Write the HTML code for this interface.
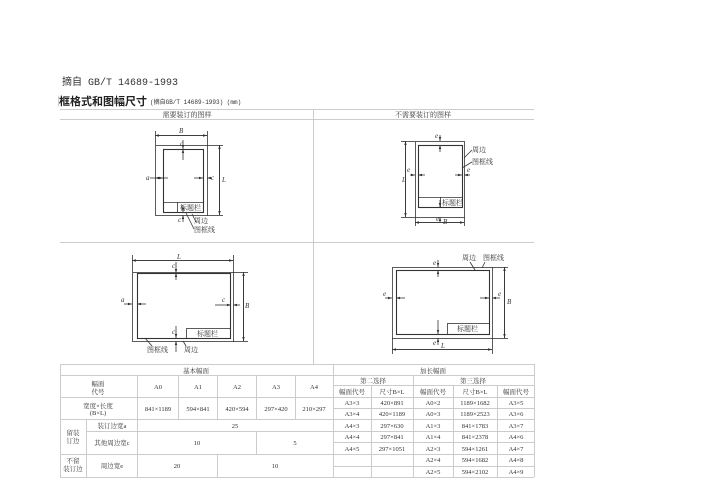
<!DOCTYPE html>
<html><head><meta charset="utf-8"><style>
body{margin:0;background:#fff;width:713px;height:504px;overflow:hidden}
svg{display:block}
text{font-family:"Liberation Serif","Noto Serif CJK SC","Noto Sans CJK SC",serif;fill:#333}
.c{text-anchor:middle}
.t{font-size:7px}
.i{font-style:italic;font-size:7px}
</style></head><body>
<svg width="713" height="504" viewBox="0 0 713 504" xmlns="http://www.w3.org/2000/svg">
<defs><marker id="a" markerWidth="6" markerHeight="6" refX="5" refY="3" orient="auto"><path d="M0,1.5L5,3L0,4.5z" fill="#333"/></marker>
<clipPath id="cl"><rect x="58" y="90" width="300" height="20"/></clipPath></defs>
<text x="62" y="85" style="font-size:10px;font-family:'Liberation Mono','Noto Sans CJK SC',monospace">摘自 GB/T 14689-1993</text>
<g clip-path="url(#cl)"><text x="48" y="105" style="font-size:11px;font-weight:bold;font-family:'Noto Sans CJK SC',sans-serif;fill:#222">图框格式和图幅尺寸</text></g>
<text x="150" y="104" style="font-size:6px;font-family:'Liberation Mono','Noto Sans CJK SC',monospace">(摘自GB/T 14689-1993)  (mm)</text>
<g stroke="#ccc" stroke-width="1" fill="none">
<line x1="60" y1="109.5" x2="534" y2="109.5"/><line x1="60" y1="119.5" x2="534" y2="119.5"/>
<line x1="60" y1="242.5" x2="534" y2="242.5"/><line x1="60" y1="364.5" x2="534" y2="364.5"/>
<line x1="313.5" y1="109" x2="313.5" y2="364"/>
</g>
<text x="187" y="117" class="c t">需要装订的图样</text>
<text x="423" y="117" class="c t">不需要装订的图样</text>
<g stroke="#333" stroke-width="0.8" fill="none">
<!-- top-left -->
<rect x="155.5" y="145.5" width="52" height="70"/>
<rect x="163.5" y="149.5" width="40" height="63" stroke-width="1.1"/>
<line x1="163" y1="202.5" x2="204" y2="202.5"/><line x1="177.5" y1="202" x2="177.5" y2="212"/>
<line x1="155" y1="135.5" x2="207" y2="135.5" marker-end="url(#a)"/><line x1="207" y1="135.5" x2="155" y2="135.5" marker-end="url(#a)"/>
<line x1="155.5" y1="131" x2="155.5" y2="145"/><line x1="207.5" y1="131" x2="207.5" y2="145"/>
<line x1="219.5" y1="145" x2="219.5" y2="215" marker-end="url(#a)"/><line x1="219.5" y1="215" x2="219.5" y2="145" marker-end="url(#a)"/>
<line x1="207" y1="145.5" x2="223" y2="145.5"/><line x1="207" y1="215.5" x2="223" y2="215.5"/>
<line x1="183" y1="160" x2="183" y2="149" marker-end="url(#a)"/><line x1="183" y1="140" x2="183" y2="149" marker-end="url(#a)"/>
<line x1="150" y1="178" x2="163" y2="178" marker-end="url(#a)"/><line x1="168" y1="178" x2="155" y2="178" marker-end="url(#a)"/>
<line x1="194" y1="178" x2="203" y2="178" marker-end="url(#a)"/><line x1="212" y1="178" x2="207" y2="178" marker-end="url(#a)"/>
<line x1="183" y1="222" x2="183" y2="215" marker-end="url(#a)"/><line x1="183" y1="205" x2="183" y2="212" marker-end="url(#a)"/>
<line x1="192" y1="214" x2="196" y2="222"/><line x1="186" y1="213" x2="194" y2="229"/>
<!-- top-right -->
<rect x="415.5" y="141.5" width="49" height="76"/>
<rect x="418.5" y="145.5" width="44" height="62" stroke-width="1.1"/>
<line x1="418" y1="197.5" x2="462" y2="197.5"/><line x1="440.5" y1="197" x2="440.5" y2="207"/>
<line x1="405.5" y1="141" x2="405.5" y2="217" marker-end="url(#a)"/><line x1="405.5" y1="217" x2="405.5" y2="141" marker-end="url(#a)"/>
<line x1="401" y1="141.5" x2="415" y2="141.5"/><line x1="401" y1="217.5" x2="415" y2="217.5"/>
<line x1="415" y1="222.5" x2="464" y2="222.5" marker-end="url(#a)"/><line x1="464" y1="222.5" x2="415" y2="222.5" marker-end="url(#a)"/>
<line x1="415.5" y1="217" x2="415.5" y2="226"/><line x1="464.5" y1="217" x2="464.5" y2="226"/>
<line x1="440" y1="135" x2="440" y2="141" marker-end="url(#a)"/><line x1="440" y1="152" x2="440" y2="145" marker-end="url(#a)"/>
<line x1="410" y1="175" x2="415" y2="175" marker-end="url(#a)"/><line x1="425" y1="175" x2="418" y2="175" marker-end="url(#a)"/>
<line x1="455" y1="175" x2="462" y2="175" marker-end="url(#a)"/><line x1="470" y1="175" x2="464" y2="175" marker-end="url(#a)"/>
<line x1="440" y1="200" x2="440" y2="207" marker-end="url(#a)"/><line x1="440" y1="222" x2="440" y2="217" marker-end="url(#a)"/>
<line x1="472" y1="150" x2="464" y2="158"/><line x1="472" y1="162" x2="462" y2="168"/>
<!-- bottom-left -->
<rect x="132.5" y="272.5" width="101" height="69"/>
<rect x="137.5" y="273.5" width="93" height="65" stroke-width="1.1"/>
<rect x="186.5" y="328.5" width="44" height="10"/>
<line x1="132" y1="260.5" x2="233" y2="260.5" marker-end="url(#a)"/><line x1="233" y1="260.5" x2="132" y2="260.5" marker-end="url(#a)"/>
<line x1="132.5" y1="255" x2="132.5" y2="272"/><line x1="233.5" y1="255" x2="233.5" y2="272"/>
<line x1="243.5" y1="272" x2="243.5" y2="341" marker-end="url(#a)"/><line x1="243.5" y1="341" x2="243.5" y2="272" marker-end="url(#a)"/>
<line x1="233" y1="272.5" x2="248" y2="272.5"/><line x1="233" y1="341.5" x2="248" y2="341.5"/>
<line x1="176" y1="262" x2="176" y2="273" marker-end="url(#a)"/><line x1="176" y1="280" x2="176" y2="273" marker-end="url(#a)"/>
<line x1="124" y1="304" x2="132" y2="304" marker-end="url(#a)"/><line x1="146" y1="304" x2="137" y2="304" marker-end="url(#a)"/>
<line x1="215" y1="305" x2="231" y2="305" marker-end="url(#a)"/><line x1="240" y1="305" x2="233" y2="305" marker-end="url(#a)"/>
<line x1="176" y1="326" x2="176" y2="338" marker-end="url(#a)"/><line x1="176" y1="352" x2="176" y2="341" marker-end="url(#a)"/>
<line x1="145" y1="338" x2="152" y2="346"/><line x1="183" y1="341" x2="186" y2="346"/>
<!-- bottom-right -->
<rect x="392.5" y="267.5" width="100" height="71"/>
<rect x="396.5" y="270.5" width="93" height="64" stroke-width="1.1"/>
<rect x="447.5" y="323.5" width="42" height="11"/>
<line x1="392" y1="349.5" x2="492" y2="349.5" marker-end="url(#a)"/><line x1="492" y1="349.5" x2="392" y2="349.5" marker-end="url(#a)"/>
<line x1="392.5" y1="338" x2="392.5" y2="354"/><line x1="492.5" y1="338" x2="492.5" y2="354"/>
<line x1="504.5" y1="267" x2="504.5" y2="338" marker-end="url(#a)"/><line x1="504.5" y1="338" x2="504.5" y2="267" marker-end="url(#a)"/>
<line x1="492" y1="267.5" x2="508" y2="267.5"/><line x1="492" y1="338.5" x2="508" y2="338.5"/>
<line x1="438" y1="260" x2="438" y2="267" marker-end="url(#a)"/><line x1="438" y1="277" x2="438" y2="270" marker-end="url(#a)"/>
<line x1="385" y1="298" x2="392" y2="298" marker-end="url(#a)"/><line x1="405" y1="298" x2="396" y2="298" marker-end="url(#a)"/>
<line x1="480" y1="298" x2="489" y2="298" marker-end="url(#a)"/><line x1="500" y1="298" x2="492" y2="298" marker-end="url(#a)"/>
<line x1="438" y1="320" x2="438" y2="334" marker-end="url(#a)"/><line x1="438" y1="345" x2="438" y2="338" marker-end="url(#a)"/>
<line x1="470" y1="262" x2="475" y2="270"/><line x1="485" y1="262" x2="482" y2="268"/>
</g>
<g class="i">
<text x="179" y="133" class="i">B</text><text x="180" y="146" class="i">c</text><text x="146" y="180" class="i">a</text>
<text x="211" y="180" class="i">c</text><text x="222" y="182" class="i">L</text><text x="178" y="222" class="i">c</text>
<text x="402" y="182" class="i">L</text><text x="407" y="172" class="i">e</text><text x="467" y="172" class="i">e</text>
<text x="435" y="138" class="i">e</text><text x="436" y="221" class="i">e</text><text x="443" y="224" class="i">B</text>
<text x="177" y="259" class="i">L</text><text x="172" y="268" class="i">c</text><text x="121" y="302" class="i">a</text>
<text x="222" y="302" class="i">c</text><text x="245" y="308" class="i">B</text><text x="172" y="334" class="i">c</text>
<text x="433" y="265" class="i">e</text><text x="383" y="296" class="i">e</text><text x="498" y="296" class="i">e</text>
<text x="507" y="304" class="i">B</text><text x="433" y="345" class="i">e</text><text x="441" y="348" class="i">L</text>
</g>
<g class="t">
<text x="180" y="210">标题栏</text><text x="194" y="223">周边</text><text x="194" y="232">图框线</text>
<text x="472" y="152">周边</text><text x="472" y="164">图框线</text><text x="442" y="205">标题栏</text>
<text x="197" y="336">标题栏</text><text x="147" y="352">图框线</text><text x="184" y="352">周边</text>
<text x="457" y="331">标题栏</text><text x="462" y="260">周边</text><text x="483" y="260">图框线</text>
</g>
<!-- tables -->
<g stroke="#ccc" stroke-width="1" fill="none">
<line x1="60" y1="375.5" x2="534" y2="375.5"/>
<line x1="60" y1="397.5" x2="333" y2="397.5"/><line x1="60" y1="419.5" x2="333" y2="419.5"/>
<line x1="86" y1="431.5" x2="333" y2="431.5"/><line x1="60" y1="454.5" x2="333" y2="454.5"/>
<line x1="60" y1="477.5" x2="534" y2="477.5"/>
<line x1="86.5" y1="419" x2="86.5" y2="477"/><line x1="137.5" y1="375" x2="137.5" y2="477"/>
<line x1="178.5" y1="375" x2="178.5" y2="419"/><line x1="217.5" y1="375" x2="217.5" y2="419"/>
<line x1="256.5" y1="375" x2="256.5" y2="419"/><line x1="295.5" y1="375" x2="295.5" y2="419"/>
<line x1="256.5" y1="431" x2="256.5" y2="454"/><line x1="217.5" y1="454" x2="217.5" y2="477"/>
<line x1="333.5" y1="364" x2="333.5" y2="477"/>
<line x1="333" y1="385.5" x2="534" y2="385.5"/><line x1="333" y1="397.5" x2="534" y2="397.5"/>
<line x1="333" y1="408.5" x2="534" y2="408.5"/><line x1="333" y1="419.5" x2="534" y2="419.5"/>
<line x1="333" y1="431.5" x2="534" y2="431.5"/><line x1="333" y1="442.5" x2="534" y2="442.5"/>
<line x1="333" y1="454.5" x2="534" y2="454.5"/><line x1="333" y1="466.5" x2="534" y2="466.5"/>
<line x1="371.5" y1="385" x2="371.5" y2="477"/><line x1="413.5" y1="375" x2="413.5" y2="477"/>
<line x1="453.5" y1="385" x2="453.5" y2="477"/><line x1="497.5" y1="385" x2="497.5" y2="477"/>
<line x1="534.5" y1="364" x2="534.5" y2="477"/><line x1="60.5" y1="364" x2="60.5" y2="477"/>
</g>
<g class="t c" style="font-size:6.5px">
<text x="196" y="373">基本幅面</text><text x="433" y="373">加长幅面</text>
<text x="98" y="386">幅面</text><text x="98" y="394">代号</text>
<text x="158" y="389">A0</text><text x="198" y="389">A1</text><text x="237" y="389">A2</text><text x="276" y="389">A3</text><text x="314" y="389">A4</text>
<text x="98" y="408">宽度×长度</text><text x="98" y="415">(B×L)</text>
<text x="158" y="411">841×1189</text><text x="198" y="411">594×841</text><text x="237" y="411">420×594</text><text x="276" y="411">297×420</text><text x="314" y="411">210×297</text>
<text x="73" y="435">留装</text><text x="73" y="443">订边</text>
<text x="112" y="428">装订边宽a</text><text x="235" y="428">25</text>
<text x="112" y="445">其他周边宽c</text><text x="197" y="445">10</text><text x="295" y="445">5</text>
<text x="73" y="463">不留</text><text x="73" y="471">装订边</text>
<text x="112" y="468">周边宽e</text><text x="177" y="468">20</text><text x="275" y="468">10</text>
<text x="373" y="383">第二选择</text><text x="473" y="383">第三选择</text>
<text x="352" y="394">幅面代号</text><text x="392" y="394">尺寸B×L</text><text x="433" y="394">幅面代号</text><text x="475" y="394">尺寸B×L</text><text x="516" y="394">幅面代号</text>
<text x="352" y="405">A3×3</text><text x="392" y="405">420×891</text><text x="433" y="405">A0×2</text><text x="475" y="405">1189×1682</text><text x="516" y="405">A3×5</text>
<text x="352" y="416">A3×4</text><text x="392" y="416">420×1189</text><text x="433" y="416">A0×3</text><text x="475" y="416">1189×2523</text><text x="516" y="416">A3×6</text>
<text x="352" y="428">A4×3</text><text x="392" y="428">297×630</text><text x="433" y="428">A1×3</text><text x="475" y="428">841×1783</text><text x="516" y="428">A3×7</text>
<text x="352" y="439">A4×4</text><text x="392" y="439">297×841</text><text x="433" y="439">A1×4</text><text x="475" y="439">841×2378</text><text x="516" y="439">A4×6</text>
<text x="352" y="451">A4×5</text><text x="392" y="451">297×1051</text><text x="433" y="451">A2×3</text><text x="475" y="451">594×1261</text><text x="516" y="451">A4×7</text>
<text x="433" y="462">A2×4</text><text x="475" y="462">594×1682</text><text x="516" y="462">A4×8</text>
<text x="433" y="474">A2×5</text><text x="475" y="474">594×2102</text><text x="516" y="474">A4×9</text>
</g>
</svg>
</body></html>
